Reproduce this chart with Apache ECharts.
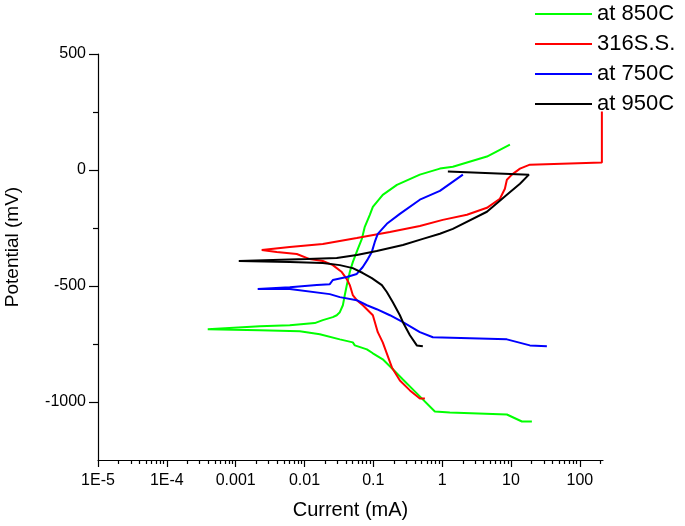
<!DOCTYPE html>
<html>
<head>
<meta charset="utf-8">
<script src="https://cdn.jsdelivr.net/npm/echarts@6/dist/echarts.min.js"></script>
<style>
html,body{margin:0;padding:0;background:#fff;}
#c{width:685px;height:526px;}
</style>
</head>
<body>
<div id="c"></div>
<script>
// Series names (legend order)
const seriesNames = ['at 850C', '316S.S.', 'at 750C', 'at 950C'];
const seriesColors = ['#00ff00', '#ff0000', '#0000ff', '#000000'];

// at 850C : current (mA) and potential (mV)
const c850 = [20.1, 14.4, 8.71, 1.29, 0.783, 0.428, 0.269, 0.192, 0.137, 0.0984, 0.0806, 0.0538, 0.0503, 0.0326, 0.0167, 0.00855, 0.00224, 0.000393,
  0.00224, 0.00611, 0.0141, 0.01845, 0.0258, 0.0294, 0.0326, 0.0361, 0.0385, 0.0412, 0.0455, 0.0503, 0.0596, 0.0681, 0.0751, 0.0889, 0.0984, 0.137, 0.220, 0.474, 0.927, 1.43, 4.47, 9.64];
const p850 = [-1084, -1084, -1054, -1045, -1041, -963, -903, -859, -816, -790, -773, -756, -743, -730, -708, -695, -691, -686,
  -673, -669, -660, -647, -634, -626, -613, -583, -539, -496, -440, -397, -340, -297, -245, -193, -159, -107, -64, -20, 6, 14, 58, 109];

// 316S.S.
const c316 = [0.561, 0.474, 0.340, 0.243, 0.186, 0.137, 0.116, 0.0984, 0.0889, 0.0703, 0.0575, 0.0503, 0.0455, 0.0412, 0.0348, 0.0258, 0.01845, 0.0119, 0.00773, 0.00395, 0.00239,
  0.00611, 0.01845, 0.0575, 0.174, 0.474, 1.02, 2.29, 4.47, 6.90, 8.15, 8.71, 10.3, 13.5, 18.8, 209, 209];
const p316 = [-985, -985, -950, -907, -851, -743, -699, -626, -613, -583, -561, -539, -496, -470, -440, -410, -392, -384, -362, -353, -345,
  -332, -319, -293, -267, -241, -215, -193, -163, -124, -81, -42, -20, 6, 23, 32, 252];

// at 750C
const c750 = [33.2, 18.8, 8.71, 0.733, 0.474, 0.269, 0.174, 0.112, 0.0806, 0.0575, 0.0326, 0.0233, 0.00611, 0.00209,
  0.00611, 0.0151, 0.0233, 0.0258, 0.0412, 0.0575, 0.0703, 0.0832, 0.0951, 0.105, 0.116, 0.157, 0.243, 0.474, 0.927, 2.00];
const p750 = [-760, -756, -730, -721, -699, -656, -626, -600, -583, -561, -548, -535, -513, -513,
  -505, -496, -492, -474, -461, -448, -418, -384, -353, -310, -275, -232, -189, -128, -90, -20];

// at 950C
const c950 = [0.524, 0.428, 0.340, 0.269, 0.243, 0.192, 0.157, 0.133, 0.0951, 0.0703, 0.0503, 0.0326, 0.01845, 0.00611, 0.00111,
  0.00346, 0.0108, 0.0294, 0.0575, 0.112, 0.269, 0.524, 0.927, 1.43, 4.47, 8.71, 13.5, 18.2, 1.21];
const p950 = [-760, -756, -712, -656, -626, -570, -526, -496, -466, -444, -423, -410, -401, -397, -392,
  -388, -384, -379, -366, -349, -323, -297, -275, -254, -180, -107, -59, -20, -7];

// Axis ticks
const xMajorTicks = [1e-5, 1e-4, 1e-3, 1e-2, 1e-1, 1, 10, 100];
const xTickLabels = ['1E-5', '1E-4', '0.001', '0.01', '0.1', '1', '10', '100'];
const yMajorTicks = [-1000, -500, 0, 500];
const yMinorTicks = [-750, -250, 250];

const xMinorTicks = [];
for (let e = -5; e <= 2; e++) {
  for (let m = 2; m <= 9; m++) {
    const v = m * Math.pow(10, e);
    if (v <= 217) xMinorTicks.push(v);
  }
}

function pairs(xs, ys) { return xs.map((x, i) => [x, ys[i]]); }
const allC = [c850, c316, c750, c950];
const allP = [p850, p316, p750, p950];

const FONT = 'Liberation Sans, Arial, sans-serif';
const chart = echarts.init(document.getElementById('c'));
chart.setOption({
  animation: false,
  backgroundColor: '#fff',
  grid: { left: 98, right: 82, top: 54, bottom: 66, containLabel: false, outerBoundsMode: 'none' },
  legend: {
    orient: 'vertical', left: 530, top: 0, padding: [3, 5],
    icon: 'rect', itemWidth: 57, itemHeight: 2, itemGap: 8,
    textStyle: { fontFamily: FONT, fontSize: 22, color: '#000' },
    data: seriesNames
  },
  xAxis: [{
    type: 'log', logBase: 10, min: 1e-5, max: 217, position: 'bottom',
    name: 'Current (mA)', nameLocation: 'middle', nameGap: 40,
    nameTextStyle: { fontFamily: FONT, fontSize: 20, color: '#000' },
    axisLine: { onZero: false, lineStyle: { color: '#000', width: 1.2 } },
    axisTick: { show: true, length: 7, customValues: xMajorTicks, lineStyle: { color: '#000', width: 1.2 } },
    axisLabel: {
      customValues: xMajorTicks, fontFamily: FONT, fontSize: 16, color: '#000', margin: 13,
      formatter: function (v) {
        const idx = xMajorTicks.findIndex(t => Math.abs(Math.log10(t) - Math.log10(v)) < 1e-6);
        return idx >= 0 ? xTickLabels[idx] : '';
      }
    },
    splitLine: { show: false }
  }, {
    type: 'log', logBase: 10, min: 1e-5, max: 217, position: 'bottom',
    axisLine: { show: false, onZero: false },
    axisTick: { show: true, length: 4, customValues: xMinorTicks, lineStyle: { color: '#000', width: 1.2 } },
    axisLabel: { show: false },
    splitLine: { show: false }
  }],
  yAxis: [{
    type: 'value', min: -1250, max: 500, position: 'left',
    name: 'Potential (mV)', nameLocation: 'middle', nameGap: 76, nameRotate: 90,
    nameTextStyle: { fontFamily: FONT, fontSize: 19, color: '#000', padding: [0, 0, 0, 20] },
    axisLine: { show: true, onZero: false, lineStyle: { color: '#000', width: 1.2 } },
    axisTick: { show: true, length: 9, customValues: yMajorTicks, lineStyle: { color: '#000', width: 1.2 } },
    axisLabel: { customValues: yMajorTicks, fontFamily: FONT, fontSize: 16, color: '#000', margin: 12,
      formatter: function (v) { return String(v); } },
    splitLine: { show: false }
  }, {
    type: 'value', min: -1250, max: 500, position: 'left',
    axisLine: { show: false, onZero: false },
    axisTick: { show: true, length: 5, customValues: yMinorTicks, lineStyle: { color: '#000', width: 1.2 } },
    axisLabel: { show: false },
    splitLine: { show: false }
  }],
  series: seriesNames.map((n, i) => ({
    name: n, type: 'line', xAxisIndex: 0, yAxisIndex: 0,
    data: pairs(allC[i], allP[i]),
    symbol: 'none', smooth: false,
    lineStyle: { color: seriesColors[i], width: 2 },
    itemStyle: { color: seriesColors[i] }
  }))
});
</script>
</body>
</html>
